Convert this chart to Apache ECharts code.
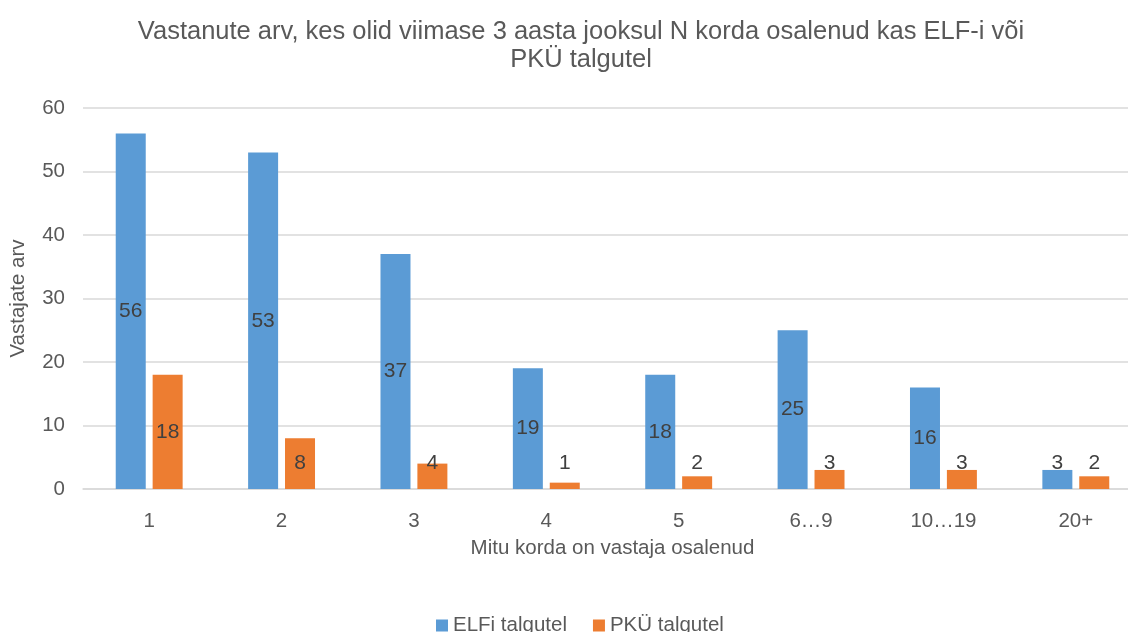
<!DOCTYPE html>
<html>
<head>
<meta charset="utf-8">
<script src="https://cdn.jsdelivr.net/npm/echarts@6/dist/echarts.min.js"></script>
<style>
  html, body { margin: 0; padding: 0; background: #fff; overflow: hidden; }
  /* the original chart runs a little past the right edge of the picture */
  #chart { width: 1142px; height: 632px; }
</style>
</head>
<body>
<div id="chart"></div>
<script>
var categories = ['1', '2', '3', '4', '5', '6…9', '10…19', '20+'];
var elfValues = [56, 53, 37, 19, 18, 25, 16, 3];
var pkuValues = [18, 8, 4, 1, 2, 3, 3, 2];
var seriesNames = ['ELFi talgutel', 'PKÜ talgutel'];
var yTicks = [0, 10, 20, 30, 40, 50, 60];

var font = '"Liberation Sans", Arial, sans-serif';

// small bars get their label lifted a bit off the axis, like Excel did
function withLabels(values) {
  return values.map(function (v) {
    if (v / 2 >= 4) return { value: v };
    return { value: v, label: { position: 'insideBottom', distance: 15 } };
  });
}

var chart = echarts.init(document.getElementById('chart'), null, { renderer: 'canvas' });

var barLabel = {
  show: true,
  position: 'inside',
  color: '#404040',
  fontFamily: font,
  fontSize: 21
};

var option = {
  backgroundColor: '#ffffff',
  animation: false,
  title: {
    text: 'Vastanute arv, kes olid viimase 3 aasta jooksul N korda osalenud kas ELF-i või\nPKÜ talgutel',
    left: 576,
    top: 13,
    textAlign: 'center',
    textStyle: {
      color: '#595959',
      fontFamily: font,
      fontWeight: 'normal',
      fontSize: 25.5,
      lineHeight: 28
    }
  },
  legend: {
    top: 610,
    left: 431,
    itemWidth: 12,
    itemHeight: 12,
    itemGap: 26,
    icon: 'rect',
    textStyle: { color: '#595959', fontFamily: font, fontSize: 20.5 },
    data: seriesNames
  },
  grid: {
    left: 82,
    right: 0,
    top: 108,
    bottom: 143
  },
  xAxis: {
    type: 'category',
    data: categories,
    name: 'Mitu korda on vastaja osalenud',
    nameLocation: 'middle',
    nameGap: 49,
    nameTextStyle: { color: '#595959', fontFamily: font, fontSize: 20.5 },
    axisLine: { lineStyle: { color: '#d9d9d9', width: 1.5 } },
    axisTick: { show: false },
    axisLabel: { color: '#595959', fontFamily: font, fontSize: 20.5, margin: 22 }
  },
  yAxis: {
    type: 'value',
    min: yTicks[0],
    max: yTicks[yTicks.length - 1],
    interval: 10,
    name: 'Vastajate arv',
    nameLocation: 'middle',
    nameGap: 54,
    nameTextStyle: { color: '#595959', fontFamily: font, fontSize: 20.5 },
    axisLine: { show: false },
    axisTick: { show: false },
    axisLabel: { color: '#595959', fontFamily: font, fontSize: 20.5, margin: 18 },
    splitLine: { lineStyle: { color: '#d9d9d9', width: 1.5 } }
  },
  series: [
    {
      name: seriesNames[0],
      type: 'bar',
      data: withLabels(elfValues),
      barWidth: 30,
      barGap: '23%',
      itemStyle: { color: '#5b9bd5' },
      label: barLabel
    },
    {
      name: seriesNames[1],
      type: 'bar',
      data: withLabels(pkuValues),
      barWidth: 30,
      itemStyle: { color: '#ed7d31' },
      label: barLabel
    }
  ]
};

chart.setOption(option);
</script>
</body>
</html>
